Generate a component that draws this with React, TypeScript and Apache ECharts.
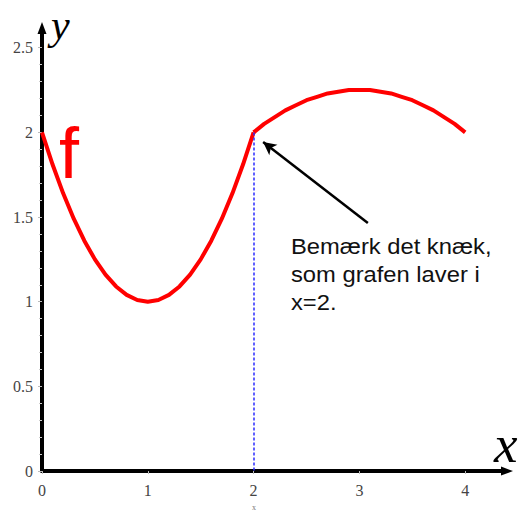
import React, { useEffect, useRef } from "react";
import * as echarts from "echarts";

// f on [0, 2]
const xLeft = [0, 0.1, 0.2, 0.3, 0.4, 0.5, 0.6, 0.7, 0.8, 0.9, 1, 1.1, 1.2, 1.3, 1.4, 1.5, 1.6, 1.7, 1.8, 1.9, 2];
const fLeft = [2, 1.81, 1.64, 1.49, 1.36, 1.25, 1.16, 1.09, 1.04, 1.01, 1, 1.01, 1.04, 1.09, 1.16, 1.25, 1.36, 1.49, 1.64, 1.81, 2];
// f on [2, 4]
const xRight = [2, 2.1, 2.2, 2.3, 2.4, 2.5, 2.6, 2.7, 2.8, 2.9, 3, 3.1, 3.2, 3.3, 3.4, 3.5, 3.6, 3.7, 3.8, 3.9, 4];
const fRight = [2, 2.05, 2.09, 2.13, 2.16, 2.19, 2.21, 2.23, 2.24, 2.25, 2.25, 2.25, 2.24, 2.23, 2.21, 2.19, 2.16, 2.13, 2.09, 2.05, 2];

const xTickValues = [0, 1, 2, 3, 4];
const yTickValues = [0, 0.5, 1, 1.5, 2, 2.5];

// dashed guide at the kink, and the note's pointer (tail -> head)
const kinkX = 2;
const kinkY = 2;
const pointerTail = [3.08, 1.465];
const pointerHead = [2.09, 1.943];

const noteLines = ["Bemærk det knæk,", "som grafen laver i", "x=2."];

const serif = "'Liberation Serif', 'DejaVu Serif', serif";
const sans = "'Liberation Sans', Arial, sans-serif";

// plot frame (px)
const GRID_LEFT = 42;
const GRID_TOP = 33;
const GRID_RIGHT = 20;
const GRID_BOTTOM = 42;
const W = 522;
const H = 513;
const AXIS_X = GRID_LEFT;
const AXIS_Y = H - GRID_BOTTOM;
const X_END = W - GRID_RIGHT;

export default function App() {
  const ref = useRef<HTMLDivElement>(null);

  useEffect(() => {
    if (!ref.current) return;
    const chart = echarts.init(ref.current, undefined, { renderer: "svg" });

    const left = xLeft.map((x, i) => [x, fLeft[i]]);
    const right = xRight.map((x, i) => [x, fRight[i]]);

    chart.setOption({
      animation: false,
      backgroundColor: "#ffffff",
      grid: { left: GRID_LEFT, right: GRID_RIGHT, top: GRID_TOP, bottom: GRID_BOTTOM },
      xAxis: {
        type: "value",
        min: 0,
        max: 4.348,
        interval: 1,
        splitLine: { show: false },
        axisLine: {
          onZero: false,
          lineStyle: { color: "#000", width: 4 },
        },
        axisTick: {
          show: true,
          length: 3,
          lineStyle: { color: "#bbb", width: 1 },
          customValues: xTickValues,
        },
        axisLabel: {
          margin: 11,
          fontFamily: serif,
          fontSize: 16,
          color: "#444",
          customValues: xTickValues,
          formatter: (v: number) => String(v),
        },
      },
      yAxis: {
        type: "value",
        min: 0,
        max: 2.587,
        interval: 0.5,
        splitLine: { show: false },
        axisLine: {
          onZero: false,
          lineStyle: { color: "#000", width: 4 },
        },
        axisTick: {
          show: true,
          length: 4,
          lineStyle: { color: "#bbb", width: 1 },
          customValues: yTickValues,
        },
        minorTick: {
          show: true,
          splitNumber: 5,
          length: 3,
          lineStyle: { color: "#ccc", width: 1 },
        },
        axisLabel: {
          margin: 9,
          fontFamily: serif,
          fontSize: 16,
          color: "#444",
          customValues: yTickValues,
          formatter: (v: number) => String(v),
        },
      },
      series: [
        {
          type: "line",
          data: left,
          showSymbol: false,
          lineStyle: { color: "#ff0000", width: 4, join: "round" },
          z: 3,
          markLine: {
            silent: true,
            symbol: ["none", "none"],
            label: { show: false },
            lineStyle: { color: "#2b2bff", width: 1.5, type: [3, 2] },
            data: [[{ coord: [kinkX, kinkY] }, { coord: [kinkX, 0] }]],
          },
        },
        {
          type: "line",
          data: right,
          showSymbol: false,
          lineStyle: { color: "#ff0000", width: 4, join: "round" },
          z: 3,
          markLine: {
            silent: true,
            symbol: ["none", "arrow"],
            symbolSize: [10, 13],
            label: { show: false },
            lineStyle: { color: "#000", width: 2.5, type: "solid" },
            data: [[{ coord: pointerTail }, { coord: pointerHead }]],
          },
        },
      ],
      graphic: [
        // axis arrowheads
        {
          type: "polygon",
          shape: {
            points: [
              [AXIS_X, GRID_TOP - 11],
              [AXIS_X - 4.5, GRID_TOP + 1],
              [AXIS_X + 4.5, GRID_TOP + 1],
            ],
          },
          style: { fill: "#000" },
          z: 10,
        },
        {
          type: "polygon",
          shape: {
            points: [
              [X_END + 11, AXIS_Y],
              [X_END - 1, AXIS_Y - 4.5],
              [X_END - 1, AXIS_Y + 4.5],
            ],
          },
          style: { fill: "#000" },
          z: 10,
        },
        {
          type: "text",
          x: 59,
          y: 153,
          style: {
            text: "f",
            fontFamily: sans,
            fontSize: 72,
            fill: "#ff0000",
            verticalAlign: "middle",
          },
        },
        {
          type: "text",
          x: 51,
          y: 25,
          style: {
            text: "y",
            fontFamily: serif,
            fontStyle: "italic",
            fontSize: 42,
            fill: "#000",
            verticalAlign: "middle",
          },
        },
        {
          type: "text",
          x: 494,
          y: 444,
          style: {
            text: "x",
            fontFamily: serif,
            fontStyle: "italic",
            fontSize: 53,
            fill: "#000",
            verticalAlign: "middle",
          },
        },
        {
          type: "text",
          x: 254,
          y: 507,
          style: {
            text: "x",
            fontFamily: serif,
            fontSize: 8,
            fill: "#777",
            align: "center",
            verticalAlign: "middle",
          },
        },
        {
          type: "text",
          x: 291,
          y: 232,
          scaleX: 1.08,
          style: {
            text: noteLines.join("\n"),
            fontFamily: sans,
            fontSize: 22,
            lineHeight: 28,
            fill: "#111",
            verticalAlign: "top",
          },
        },
      ],
    });

    return () => chart.dispose();
  }, []);

  return (
    <div
      ref={ref}
      style={{ position: "fixed", left: 0, top: 0, width: W, height: H }}
    />
  );
}
